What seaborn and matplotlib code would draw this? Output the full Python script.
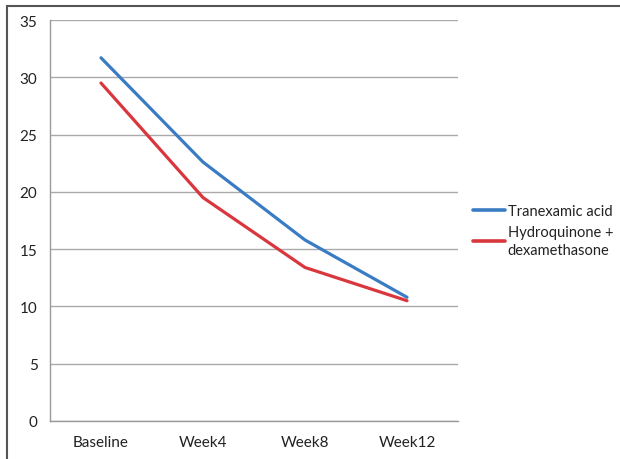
import matplotlib
matplotlib.use("Agg")
import matplotlib.pyplot as plt
import seaborn as sns
import pandas as pd
from matplotlib.patches import Rectangle

categories = ["Baseline", "Week4", "Week8", "Week12"]
tranexamic = [31.7, 22.6, 15.8, 10.8]
hydroquinone = [29.5, 19.5, 13.4, 10.5]
series_names = ["Tranexamic acid", "Hydroquinone +\ndexamethasone"]
yticks = [0, 5, 10, 15, 20, 25, 30, 35]

df = pd.DataFrame({
    "time": categories * 2,
    "x": list(range(len(categories))) * 2,
    "value": tranexamic + hydroquinone,
    "series": [series_names[0]] * 4 + [series_names[1]] * 4,
})

sns.set_theme(style="white")
plt.rcParams["font.family"] = ["Lato", "DejaVu Sans"]

fig = plt.figure(figsize=(6.2, 4.6), dpi=100)
ax = fig.add_axes([50 / 620, 1 - 422 / 460, 408 / 620, 401 / 460])

palette = {series_names[0]: "#3A7CC4", series_names[1]: "#D9363E"}
sns.lineplot(data=df, x="x", y="value", hue="series", palette=palette,
             linewidth=2.3, ax=ax, legend=True)

ax.set_xlim(-0.5, 3.5)
ax.set_ylim(0, 35)
ax.set_yticks(yticks)
ax.set_yticklabels([str(v) for v in yticks], fontsize=11, color="#222222")
ax.set_xticks(range(len(categories)))
ax.set_xticklabels(categories, fontsize=11, color="#222222")
ax.tick_params(axis="x", which="major", length=0, pad=10)
ax.set_xticks([-0.5, 0.5, 1.5, 2.5, 3.5], minor=True)
ax.tick_params(axis="x", which="minor", length=5, color="#999999", direction="out", width=1)
ax.tick_params(axis="y", length=5, color="#999999", direction="out", width=1, pad=4)
ax.set_xlabel("")
ax.set_ylabel("")
ax.yaxis.grid(True, color="#AAAAAA", linewidth=1)
ax.set_axisbelow(True)
for s in ["top", "right"]:
    ax.spines[s].set_visible(False)
for s in ["left", "bottom"]:
    ax.spines[s].set_color("#999999")
    ax.spines[s].set_linewidth(1)

handles, labels = ax.get_legend_handles_labels()
leg = ax.legend(handles, labels, loc="center left", bbox_to_anchor=(1.022, 0.475),
                frameon=False, fontsize=10.5, handlelength=2.2, handletextpad=0.2,
                labelspacing=0.45, borderaxespad=0)
for t in leg.get_texts():
    t.set_linespacing(1.35)
    t.set_color("#222222")
for line in leg.get_lines():
    line.set_linewidth(2.6)

fig.patches.append(Rectangle((7 / 620, -0.1), 1.2, 1 - 7 / 460 + 0.1,
                             transform=fig.transFigure, fill=False,
                             edgecolor="#555555", linewidth=1.5))

fig.savefig("out.png", dpi=100)
